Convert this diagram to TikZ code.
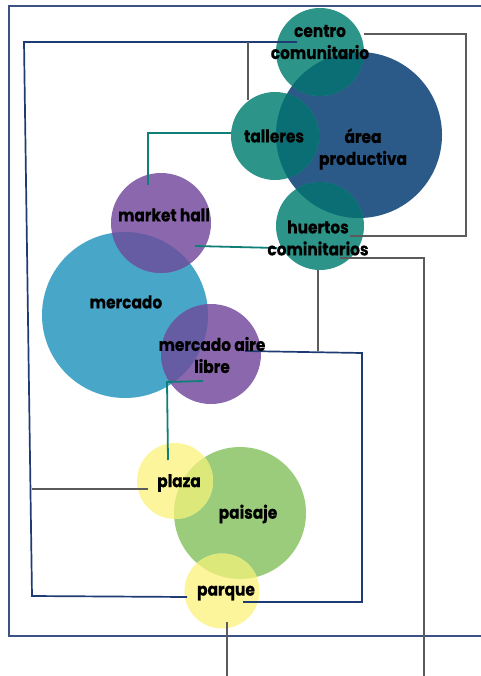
\documentclass[tikz,border=0pt]{standalone}
\usepackage{fontspec}
\setmainfont{Poppins}
\newfontfamily\lblfont[FakeStretch=0.88,FakeBold=0.4]{Poppins}
\definecolor{cFrame}{HTML}{3D5284}
\definecolor{cNavy}{HTML}{1F3B73}
\definecolor{cGrey}{HTML}{5B5B5B}
\definecolor{cTealLine}{HTML}{0E8077}
\definecolor{cTeal}{HTML}{2C9488}
\definecolor{cDarkBlue}{HTML}{2B5A88}
\definecolor{cTealBlue}{HTML}{0B6E74}
\definecolor{cPurple}{HTML}{8B68AD}
\definecolor{cSky}{HTML}{48A6C9}
\definecolor{cPurpSky}{HTML}{655CA3}
\definecolor{cYellow}{HTML}{FDF59B}
\definecolor{cGreen}{HTML}{9BCC7C}
\definecolor{cYelGreen}{HTML}{DDE87A}
\begin{document}
\begin{tikzpicture}[x=1pt,y=-1pt,
  bubble/.style={circle,inner sep=0pt,draw=none},
  lbl/.style={font=\lblfont\fontsize{17.5}{22}\selectfont\bfseries,text=black,align=center,inner sep=0pt},
  navyline/.style={draw=cNavy,line width=1.7pt},
  greyline/.style={draw=cGrey,line width=1.5pt},
  tealline/.style={draw=cTealLine,line width=1.8pt}]
\useasboundingbox (0,0) rectangle (480,676);
% frame
\draw[cFrame,line width=1.8pt] (500,6) -- (9,6) -- (9,636) -- (500,636);
% bubbles
\node[bubble,fill=cDarkBlue,minimum size=166pt] (ap) at (359,135) {};
\node[bubble,fill=cTeal,minimum size=88pt] (cc) at (320,52) {};
\node[bubble,fill=cTeal,minimum size=88pt] (ta) at (275,136) {};
\node[bubble,fill=cTeal,minimum size=88pt] (hu) at (320,226) {};
\node[bubble,fill=cSky,minimum size=166pt] (me) at (125,315) {};
\node[bubble,fill=cPurple,minimum size=100pt] (mh) at (161,223) {};
\node[bubble,fill=cPurple,minimum size=100pt] (ma) at (211,354) {};
\node[bubble,fill=cGreen,minimum size=132pt] (pa) at (240,513) {};
\node[bubble,fill=cYellow,minimum size=76pt] (pl) at (175,481) {};
\node[bubble,fill=cYellow,minimum size=75pt] (pq) at (222,591) {};
% overlaps
\begin{scope}\clip (359,135) circle (83);
  \fill[cTealBlue] (320,52) circle (44);
  \fill[cTealBlue] (275,136) circle (44);
  \fill[cTealBlue] (320,226) circle (44);
\end{scope}
\begin{scope}\clip (125,315) circle (83);
  \fill[cPurpSky] (161,223) circle (50);
  \fill[cPurpSky] (211,354) circle (50);
\end{scope}
\begin{scope}\clip (240,513) circle (66);
  \fill[cYelGreen] (175,481) circle (38);
  \fill[cYelGreen] (222,591) circle (37.5);
\end{scope}
% connector points
\coordinate (ccW) at (297,42);
\coordinate (tl1) at (24,42);
\coordinate (bl1) at (32,596);
\coordinate (pqW) at (187,597);
\coordinate (plW) at (148,489);
\coordinate (plJ) at (32,489);
\coordinate (ccE) at (364,34);
\coordinate (r1) at (466,34);
\coordinate (r2) at (466,236);
\coordinate (huE) at (350,236);
\coordinate (taN) at (248,100);
\coordinate (taJ) at (248,42);
\coordinate (taW) at (231,133);
\coordinate (t1) at (148,133);
\coordinate (mhN) at (148,185);
\coordinate (mhE) at (195,246);
\coordinate (huW) at (277,248);
\coordinate (huSE) at (340,258);
\coordinate (g1) at (424,258);
\coordinate (g1e) at (424,676);
\coordinate (huS) at (318,270);
\coordinate (huJ) at (318,351);
\coordinate (maE) at (245,351);
\coordinate (b1) at (362,353);
\coordinate (b2) at (362,602);
\coordinate (pqE) at (243,602);
\coordinate (maS) at (203,381);
\coordinate (t2) at (167,382);
\coordinate (plN) at (168,460);
\coordinate (pqS) at (227,622);
\coordinate (pqe) at (227,676);
% connectors
\draw[navyline] (ccW) -- (tl1) -- (bl1) -- (pqW);
\draw[greyline] (plW) -- (plJ);
\draw[greyline] (ccE) -- (r1) -- (r2) -- (huE);
\draw[greyline] (taN) -- (taJ);
\draw[tealline] (taW) -- (t1) -- (mhN);
\draw[tealline] (mhE) -- (huW);
\draw[greyline] (huSE) -- (g1) -- (g1e);
\draw[greyline] (huS) -- (huJ);
\draw[navyline] (maE) -- (b1) -- (b2) -- (pqE);
\draw[tealline] (maS) -- (t2) -- (plN);
\draw[greyline] (pqS) -- (pqe);
% labels
\node[lbl] (lcc) at (320,42) {centro\\comunitario};
\node[lbl] (lap) at (363,149) {área\\productiva};
\node[lbl] (lta) at (274,136) {talleres};
\node[lbl] (lhu) at (318,238) {huertos\\cominitarios};
\node[lbl] (lmh) at (164,215) {market hall};
\node[lbl] (lme) at (126,302) {mercado};
\node[lbl] (lma) at (212,355) {mercado aire\\libre};
\node[lbl] (lpl) at (179,483) {plaza};
\node[lbl] (lpa) at (248,514) {paisaje};
\node[lbl] (lpq) at (226,593) {parque};
\end{tikzpicture}
\end{document}
